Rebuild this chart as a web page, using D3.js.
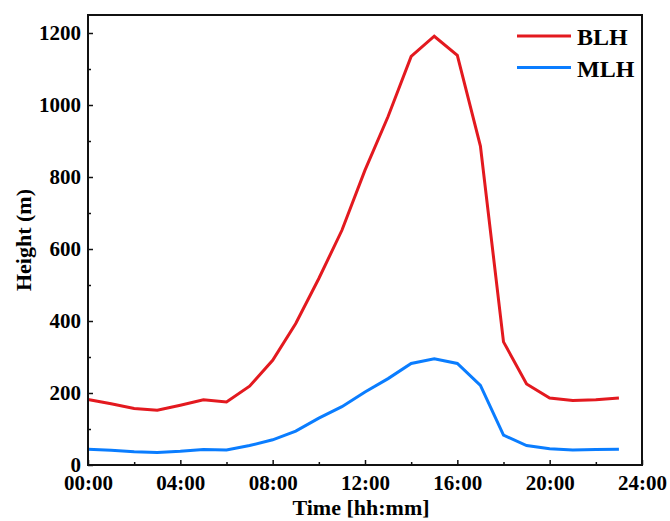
<!DOCTYPE html>
<html>
<head>
<meta charset="utf-8">
<script src="https://cdn.jsdelivr.net/npm/d3@7"></script>
<style>
  body { margin: 0; background: #fff; }
  svg text { font-family: "Liberation Serif", "Times New Roman", serif; font-weight: bold; fill: #000; }
</style>
</head>
<body>
<div id="chart"></div>
<script>
// hours of the day
const hours = d3.range(0, 24);
// boundary layer height (m)
const blh = [182, 170, 157, 152, 166, 181, 175, 219, 291, 393, 518, 652,
             819, 968, 1135, 1191, 1138, 886, 342, 225, 186, 179, 181, 186];
// mixing layer height (m)
const mlh = [44, 41, 37, 35, 38, 43, 42, 54, 70, 94, 130, 162,
             203, 240, 282, 295, 282, 221, 83, 54, 45, 42, 43, 44];
const xTickLabels = ["00:00", "04:00", "08:00", "12:00", "16:00", "20:00", "24:00"];
const seriesNames = ["BLH", "MLH"];
const colors = ["#e3191f", "#0a7dff"];

document.addEventListener('DOMContentLoaded', function() {
    const W = 670, H = 521;
    const m = {left: 88, right: 28, top: 15, bottom: 56};
    const svg = d3.select('#chart').append('svg')
        .attr('width', W)
        .attr('height', H);

    const x = d3.scaleLinear().domain([0, 24]).range([m.left, W - m.right]);
    const y = d3.scaleLinear().domain([0, 1250]).range([H - m.bottom, m.top]);

    // lines
    const line = d3.line().x((d, i) => x(hours[i])).y(d => y(d));
    [blh, mlh].forEach((s, k) => {
        svg.append('path')
            .datum(s)
            .attr('fill', 'none')
            .attr('stroke', colors[k])
            .attr('stroke-width', 3)
            .attr('stroke-linejoin', 'miter')
            .attr('d', line);
    });

    // axes with inward ticks
    const xAxis = svg.append('g').attr('transform', `translate(0,${H - m.bottom})`)
        .call(d3.axisBottom(x).tickValues(d3.range(0, 25, 4)).tickSize(-5).tickPadding(10)
            .tickFormat((d, i) => xTickLabels[i]));
    svg.append('g').attr('transform', `translate(0,${H - m.bottom})`)
        .call(d3.axisBottom(x).tickValues(d3.range(2, 24, 4)).tickSize(-3).tickFormat(''))
        .select('.domain').remove();

    const yAxis = svg.append('g').attr('transform', `translate(${m.left},0)`)
        .call(d3.axisLeft(y).tickValues(d3.range(0, 1201, 200)).tickSize(-5).tickPadding(7)
            .tickFormat(d3.format('d')));
    svg.append('g').attr('transform', `translate(${m.left},0)`)
        .call(d3.axisLeft(y).tickValues(d3.range(100, 1250, 200)).tickSize(-3).tickFormat(''))
        .select('.domain').remove();

    svg.selectAll('.tick line').attr('stroke', '#111').attr('stroke-width', 1.5);
    xAxis.selectAll('text').style('font-size', '21px');
    yAxis.selectAll('text').style('font-size', '21px');
    xAxis.select('.domain').remove();
    yAxis.select('.domain').remove();

    // frame
    svg.append('rect')
        .attr('x', m.left).attr('y', m.top)
        .attr('width', W - m.left - m.right)
        .attr('height', H - m.top - m.bottom)
        .attr('fill', 'none')
        .attr('stroke', '#111')
        .attr('stroke-width', 2);

    // axis titles
    svg.append('text')
        .attr('x', (m.left + W - m.right) / 2 - 4)
        .attr('y', 515)
        .attr('text-anchor', 'middle')
        .style('font-size', '22px')
        .text('Time [hh:mm]');
    svg.append('text')
        .attr('transform', `translate(31,${(m.top + H - m.bottom) / 2}) rotate(-90)`)
        .attr('text-anchor', 'middle')
        .style('font-size', '22px')
        .text('Height (m)');

    // legend
    const legend = svg.append('g');
    seriesNames.forEach((name, k) => {
        const ly = 36 + k * 31.5;
        legend.append('line')
            .attr('x1', 517).attr('x2', 571)
            .attr('y1', ly).attr('y2', ly)
            .attr('stroke', colors[k]).attr('stroke-width', 3);
        legend.append('text')
            .attr('x', 577).attr('y', ly + 9)
            .style('font-size', '24px')
            .text(name);
    });
});
</script>
</body>
</html>
